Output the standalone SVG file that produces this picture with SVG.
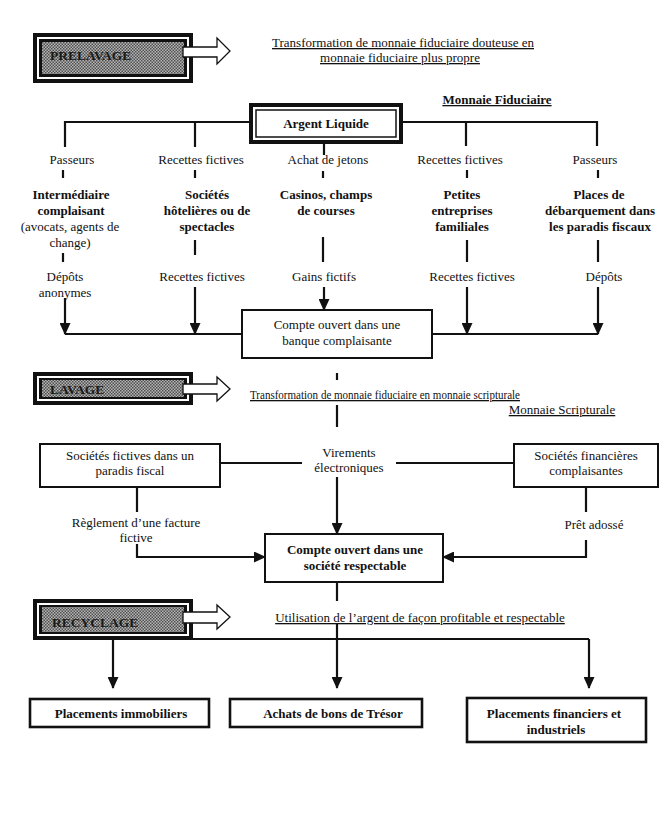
<svg xmlns="http://www.w3.org/2000/svg" width="670" height="835" viewBox="0 0 670 835">
<style>
text{font-family:"Liberation Serif","Times New Roman",serif;font-size:13px;fill:#111}
.c{text-anchor:middle}
.b{font-weight:bold}
.u{text-decoration:underline}
.ln{stroke:#111;stroke-width:2.2;fill:none}
.box{stroke:#111;stroke-width:2;fill:#fff}
.box3{stroke:#111;stroke-width:2.6;fill:#fff}
.arr{fill:#fff;stroke:#111;stroke-width:1.3}
.ph{font-weight:bold;font-size:13.5px;fill:#1a1a1a}
</style>
<defs>
<pattern id="hatch" width="3" height="3" patternUnits="userSpaceOnUse">
<rect width="3" height="3" fill="#b4b4b4"/>
<rect width="1.5" height="1.5" fill="#505050"/>
<rect x="1.5" y="1.5" width="1.5" height="1.5" fill="#505050"/>
</pattern>
<marker id="ah" viewBox="0 0 12 11" refX="11" refY="5.5" markerWidth="12" markerHeight="11" markerUnits="userSpaceOnUse" orient="auto">
<path d="M0,0 L12,5.5 L0,11 z" fill="#111"/>
</marker>
</defs>
<rect width="670" height="835" fill="#fff"/>

<g id="prelavage">
<rect x="33" y="33" width="160" height="50" fill="#111"/>
<rect x="37" y="37" width="152" height="42" fill="#fff"/>
<rect x="39" y="39" width="148" height="38" fill="#111"/>
<rect x="42" y="42" width="142" height="32" fill="url(#hatch)"/>
<path class="arr" d="M183,47 H217 V38 L230,51 L217,64 V57 H183 Z"/>
<text class="ph" x="50" y="60">PRELAVAGE</text>
</g>
<g id="prelavage-desc">
<text class="c u" x="403" y="47">Transformation de monnaie fiduciaire douteuse en</text>
<text class="c u" x="400" y="62">monnaie fiduciaire plus propre</text>
</g>
<text class="c b u" x="497" y="104">Monnaie Fiduciaire</text>

<g id="argent-liquide">
<rect x="251" y="105" width="150" height="37" fill="#fff" stroke="#111" stroke-width="4"/>
<rect x="256" y="110" width="140" height="27" fill="none" stroke="#111" stroke-width="1.5"/>
<text class="c b" x="326" y="128">Argent Liquide</text>
</g>

<g id="col1">
<text class="c" x="72" y="164">Passeurs</text>
<text class="c b" x="71" y="199">Intermédiaire</text>
<text class="c b" x="71" y="215">complaisant</text>
<text class="c" x="70" y="231">(avocats, agents de</text>
<text class="c" x="70" y="247">change)</text>
<text class="c" x="65" y="281">Dépôts</text>
<text class="c" x="65" y="297">anonymes</text>
</g>
<g id="col2">
<text class="c" x="201" y="164">Recettes fictives</text>
<text class="c b" x="207" y="199">Sociétés</text>
<text class="c b" x="207" y="215">hôtelières ou de</text>
<text class="c b" x="207" y="231">spectacles</text>
<text class="c" x="202" y="281">Recettes fictives</text>
</g>
<g id="col3">
<text class="c" x="328" y="164">Achat de jetons</text>
<text class="c b" x="326" y="199">Casinos, champs</text>
<text class="c b" x="326" y="215">de courses</text>
<text class="c" x="324" y="281">Gains fictifs</text>
</g>
<g id="col4">
<text class="c" x="460" y="164">Recettes fictives</text>
<text class="c b" x="462" y="199">Petites</text>
<text class="c b" x="462" y="215">entreprises</text>
<text class="c b" x="462" y="231">familiales</text>
<text class="c" x="472" y="281">Recettes fictives</text>
</g>
<g id="col5">
<text class="c" x="595" y="164">Passeurs</text>
<text class="c b" x="599" y="199">Places de</text>
<text class="c b" x="600" y="215">débarquement dans</text>
<text class="c b" x="600" y="231">les paradis fiscaux</text>
<text class="c" x="604" y="281">Dépôts</text>
</g>

<g id="compte-banque">
<rect class="box" x="242" y="310" width="190" height="48"/>
<text class="c" x="337" y="329">Compte ouvert dans une</text>
<text class="c" x="337" y="345">banque complaisante</text>
</g>

<g id="lavage">
<rect x="33" y="372" width="160" height="33" fill="#111"/>
<rect x="37" y="376" width="152" height="25" fill="#fff"/>
<rect x="39" y="378" width="148" height="21" fill="#111"/>
<rect x="42" y="380" width="142" height="17" fill="url(#hatch)"/>
<path class="arr" d="M183,384 H217 V377 L230,389 L217,401 V394 H183 Z"/>
<text class="ph" x="50" y="394">LAVAGE</text>
</g>
<text class="u" x="250" y="399" textLength="270" lengthAdjust="spacingAndGlyphs">Transformation de monnaie fiduciaire en monnaie scripturale</text>
<text class="c u" x="562" y="414">Monnaie Scripturale</text>

<g id="societes-fictives">
<rect class="box" x="40" y="444" width="180" height="43"/>
<text class="c" x="130" y="460">Sociétés fictives dans un</text>
<text class="c" x="130" y="475">paradis fiscal</text>
</g>
<g id="virements">
<text class="c" x="349" y="457">Virements</text>
<text class="c" x="349" y="472">électroniques</text>
</g>
<g id="societes-financieres">
<rect class="box" x="514" y="444" width="144" height="43"/>
<text class="c" x="586" y="460">Sociétés financières</text>
<text class="c" x="586" y="475">complaisantes</text>
</g>
<text class="c" x="136" y="527">Règlement d’une facture</text>
<text class="c" x="136" y="542">fictive</text>
<text class="c" x="594" y="529">Prêt adossé</text>

<g id="compte-societe">
<rect class="box" x="265" y="534" width="178" height="48"/>
<text class="c b" x="355" y="554">Compte ouvert dans une</text>
<text class="c b" x="355" y="570">société respectable</text>
</g>

<g id="recyclage">
<rect x="33" y="599" width="160" height="41" fill="#111"/>
<rect x="37" y="603" width="152" height="33" fill="#fff"/>
<rect x="39" y="605" width="148" height="29" fill="#111"/>
<rect x="42" y="607" width="142" height="25" fill="url(#hatch)"/>
<path class="arr" d="M183,612 H217 V605 L230,617 L217,629 V623 H183 Z"/>
<text class="ph" x="52" y="627">RECYCLAGE</text>
</g>
<text class="c u" x="420" y="622">Utilisation de l’argent de façon profitable et respectable</text>

<g id="placements-immobiliers">
<rect class="box3" x="30" y="699" width="179" height="28"/>
<text class="c b" x="121" y="718">Placements immobiliers</text>
</g>
<g id="bons-tresor">
<rect class="box3" x="230" y="699" width="192" height="28"/>
<text class="c b" x="333" y="718">Achats de bons de Trésor</text>
</g>
<g id="placements-financiers">
<rect class="box3" x="467" y="698" width="179" height="44"/>
<text class="c b" x="554" y="718">Placements financiers et</text>
<text class="c b" x="556" y="734">industriels</text>
</g>

<g id="connectors">
<path class="ln" d="M65,147 V122 H249 M403,122 H597 V146 M195,122 V147 M466,122 V146 M324,144 V155"/>
<path class="ln" d="M63,170 V178 M195,170 V178 M323,171 V178 M467,170 V178 M598,170 V178"/>
<path class="ln" d="M63,253 V262 M195,240 V255 M323,237 V262 M467,240 V262 M598,240 V262"/>
<path class="ln" d="M65,334 H242 M432,334 H598"/>
<path class="ln" d="M65,298 V334" marker-end="url(#ah)"/>
<path class="ln" d="M195,287 V334" marker-end="url(#ah)"/>
<path class="ln" d="M324,287 V310" marker-end="url(#ah)"/>
<path class="ln" d="M467,287 V334" marker-end="url(#ah)"/>
<path class="ln" d="M598,287 V334" marker-end="url(#ah)"/>
<path class="ln" d="M337,373 V380 M337,405 V427 M220,463 H302 M396,463 H514"/>
<path class="ln" d="M337,477 V534" marker-end="url(#ah)"/>
<path class="ln" d="M137,487 V512 M586,487 V512"/>
<path class="ln" d="M137,544 V557 H265" marker-end="url(#ah)"/>
<path class="ln" d="M586,540 V557 H443" marker-end="url(#ah)"/>
<path class="ln" d="M337,582 V601 M113,639 H589"/>
<path class="ln" d="M337,624 V688" marker-end="url(#ah)"/>
<path class="ln" d="M113,639 V688" marker-end="url(#ah)"/>
<path class="ln" d="M589,639 V688" marker-end="url(#ah)"/>
</g>
</svg>
